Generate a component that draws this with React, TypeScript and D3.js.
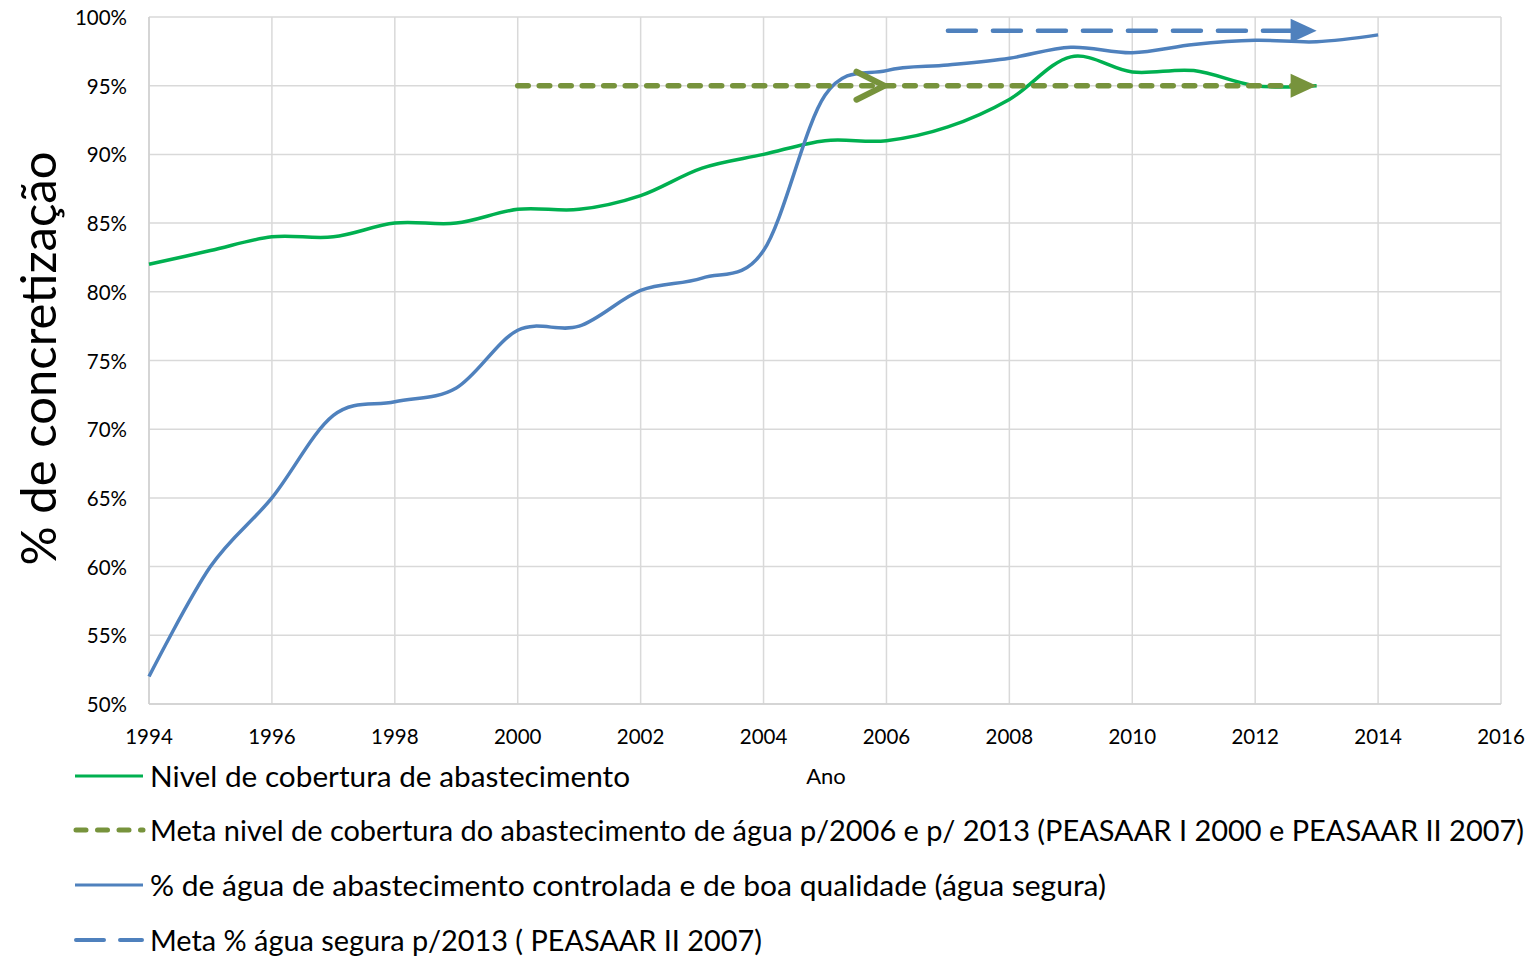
import React from "react";
import * as d3 from "d3";

const years = [1994, 1995, 1996, 1997, 1998, 1999, 2000, 2001, 2002, 2003, 2004, 2005, 2006, 2007, 2008, 2009, 2010, 2011, 2012, 2013, 2014];
const coverage = [82, 83, 84, 84, 85, 85, 86, 86, 87, 89, 90, 91, 91, 92, 94, 97.1, 96, 96.1, 95, 95];
const safeWater = [52, 60, 65, 71, 72, 73, 77.2, 77.5, 80.1, 81, 83, 94.3, 96.1, 96.5, 97, 97.8, 97.4, 98, 98.3, 98.2, 98.7];
const goalCoverageYears = [2000, 2013];
const goalCoverageValue = 95;
const goalCoverageMilestone = 2006;
const goalSafeYears = [2007, 2013];
const goalSafeValue = 99;
const xTicks = [1994, 1996, 1998, 2000, 2002, 2004, 2006, 2008, 2010, 2012, 2014, 2016];
const yTicks = [50, 55, 60, 65, 70, 75, 80, 85, 90, 95, 100];
const legendLabels = [
  "Nivel de cobertura de abastecimento",
  "Meta nivel de cobertura do abastecimento de água p/2006 e p/ 2013 (PEASAAR I 2000 e PEASAAR II 2007)",
  "% de água de abastecimento controlada e de boa qualidade (água segura)",
  "Meta % água segura p/2013 ( PEASAAR II 2007)",
];
const legendWidths = [480, 1374, 956, 612];
const yTitle = "% de concretização";
const xTitle = "Ano";

const GREEN = "#00B050";
const BLUE = "#4F81BD";
const OLIVE = "#77933C";
const GRID = "#D9D9D9";
const FONT = "Lato, 'Open Sans', sans-serif";

export default function App() {
  const W = 1530, H = 956;
  const x = d3.scaleLinear().domain([1994, 2016]).range([149, 1501]);
  const y = d3.scaleLinear().domain([50, 100]).range([704, 17]);
  const line = d3
    .line<[number, number]>()
    .x((d) => x(d[0]))
    .y((d) => y(d[1]))
    .curve(d3.curveCatmullRom.alpha(0));
  const straight = d3
    .line<[number, number]>()
    .x((d) => x(d[0]))
    .y((d) => y(d[1]));

  const covPts = coverage.map((v, i) => [years[i], v] as [number, number]);
  const safePts = safeWater.map((v, i) => [years[i], v] as [number, number]);

  const gEnd = x(goalCoverageYears[1]);
  const gY = y(goalCoverageValue);
  const sEnd = x(goalSafeYears[1]);
  const sY = y(goalSafeValue);
  const mX = x(goalCoverageMilestone) - 2;

  const legendY = [776, 830, 885, 940];

  return (
    <div style={{ position: "absolute", left: 0, top: 0 }}>
      <svg width={W} height={H} style={{ display: "block", background: "#fff" }}>
        {yTicks.map((t) => (
          <line key={"hy" + t} x1={x(1994)} x2={x(2016)} y1={y(t)} y2={y(t)} stroke={GRID} strokeWidth={1.5} />
        ))}
        {xTicks.map((t) => (
          <line key={"vx" + t} x1={x(t)} x2={x(t)} y1={y(100)} y2={y(50)} stroke={GRID} strokeWidth={1.5} />
        ))}
        <line x1={x(1994)} x2={x(1994)} y1={y(100)} y2={y(50)} stroke="#D0D0D0" strokeWidth={1.5} />
        <line x1={x(1994)} x2={x(2016)} y1={y(50)} y2={y(50)} stroke="#D0D0D0" strokeWidth={1.5} />

        {yTicks.map((t) => (
          <text key={"yl" + t} x={127} y={y(t)} textAnchor="end" dominantBaseline="central" fontFamily={FONT} fontSize={20.5} fill="#000">
            {t}%
          </text>
        ))}
        {xTicks.map((t) => (
          <text key={"xl" + t} x={x(t)} y={736} textAnchor="middle" dominantBaseline="central" fontFamily={FONT} fontSize={20.5} fill="#000">
            {t}
          </text>
        ))}

        <text
          transform={`translate(37,${y(75) - 2}) rotate(-90)`}
          textAnchor="middle"
          dominantBaseline="central"
          fontFamily={FONT}
          fontSize={49}
          fill="#000"
        >
          {yTitle}
        </text>
        <text x={826} y={775} textAnchor="middle" dominantBaseline="central" fontFamily={FONT} fontSize={22} fill="#000">
          {xTitle}
        </text>

        {/* series */}
        <path d={line(covPts) || ""} fill="none" stroke={GREEN} strokeWidth={3.5} />
        <path d={line(safePts) || ""} fill="none" stroke={BLUE} strokeWidth={3.5} />

        {/* goal coverage */}
        <path
          d={straight([[goalCoverageYears[0], goalCoverageValue], [goalCoverageYears[1] - 0.35, goalCoverageValue]]) || ""}
          fill="none"
          stroke={OLIVE}
          strokeWidth={5.5}
          strokeDasharray="10.5 11"
          strokeLinecap="round"
        />
        <path d={`M${mX - 28},${gY - 14} L${mX},${gY} L${mX - 28},${gY + 14}`} fill="none" stroke={OLIVE} strokeWidth={6} strokeLinecap="round" strokeLinejoin="miter" />
        <path d={`M${gEnd},${gY} L${gEnd - 26},${gY - 12} L${gEnd - 26},${gY + 12} Z`} fill={OLIVE} />

        {/* goal safe */}
        <path
          d={straight([[goalSafeYears[0], goalSafeValue], [goalSafeYears[1] - 0.35, goalSafeValue]]) || ""}
          fill="none"
          stroke={BLUE}
          strokeWidth={4.5}
          strokeDasharray="28 17"
          strokeLinecap="round"
        />
        <path d={`M${sEnd},${sY} L${sEnd - 26},${sY - 12} L${sEnd - 26},${sY + 12} Z`} fill={BLUE} />

        {/* legend */}
        <line x1={75} x2={143} y1={legendY[0]} y2={legendY[0]} stroke={GREEN} strokeWidth={3} />
        <line x1={76} x2={143} y1={legendY[1]} y2={legendY[1]} stroke={OLIVE} strokeWidth={5} strokeDasharray="10 11.5" strokeLinecap="round" />
        <line x1={75} x2={143} y1={legendY[2]} y2={legendY[2]} stroke={BLUE} strokeWidth={3} />
        <line x1={76} x2={142} y1={legendY[3]} y2={legendY[3]} stroke={BLUE} strokeWidth={4} strokeDasharray="28 16" strokeLinecap="round" />
        {legendLabels.map((l, i) => (
          <text
            key={"lg" + i}
            x={150}
            y={legendY[i]}
            dominantBaseline="central"
            fontFamily={FONT}
            fontSize={28.5}
            fill="#000"
            textLength={legendWidths[i]}
            lengthAdjust="spacingAndGlyphs"
          >
            {l}
          </text>
        ))}
      </svg>
    </div>
  );
}
